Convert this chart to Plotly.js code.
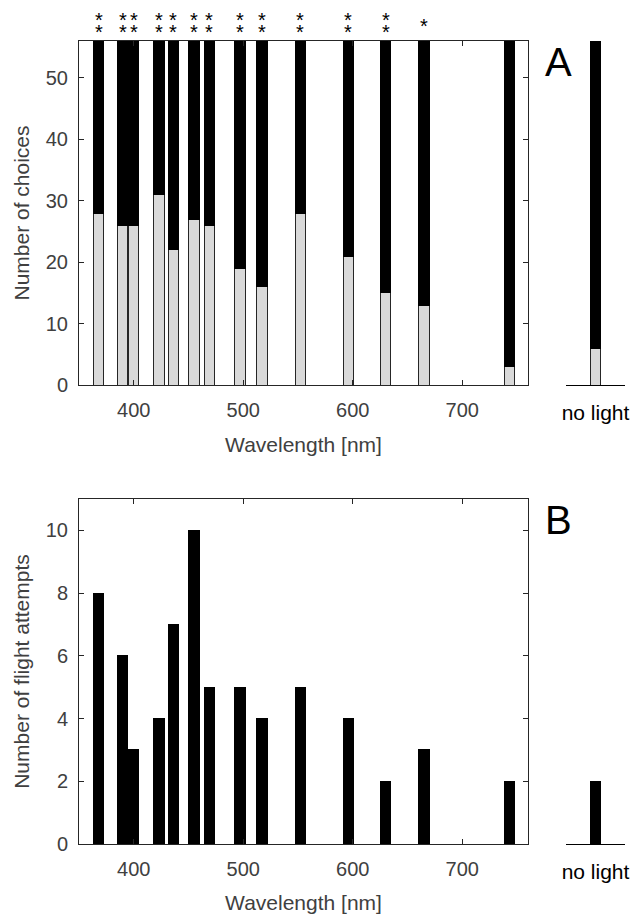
<!DOCTYPE html>
<html><head><meta charset="utf-8">
<script src="https://cdn.plot.ly/plotly-3.0.1.min.js"></script>
<style>html,body{margin:0;padding:0;background:#fff;} #chart{width:633px;height:914px;}</style>
</head><body><div id="chart"></div>
<script>
// ---- data ----
const wavelengths = [368, 390, 400, 423, 436, 455, 469, 497, 517, 552, 596, 630, 665, 743];
const lightChoices = [28, 26, 26, 31, 22, 27, 26, 19, 16, 28, 21, 15, 13, 3];
const darkChoices = [32, 34, 34, 29, 38, 33, 34, 41, 44, 32, 39, 45, 47, 57];
const significance = ['**', '**', '**', '**', '**', '**', '**', '**', '**', '**', '**', '**', '*', ''];
const flightAttempts = [8, 6, 3, 4, 7, 10, 5, 5, 4, 5, 4, 2, 3, 2];
const noLightLabel = ['no light'];
const noLightChoices = [6];
const noLightDark = [54];
const noLightFlights = [2];
const choiceTicks = [0, 10, 20, 30, 40, 50];
const flightTicks = [0, 2, 4, 6, 8, 10];
const wavelengthTicks = [400, 500, 600, 700];

// ---- style ----
const W = 633, H = 914;
const FONT = 'Liberation Sans, Arial, Helvetica, sans-serif';
const AX = '#262626', TXT = '#404040';
const grayFill = '#d9d9d9';
const barW = 9.4;
const px2x = p => p / W;
const px2y = p => 1 - p / H;

const mainX = [px2x(79), px2x(528)];
const nlX = [px2x(566), px2x(625)];
const aY = [px2y(385), px2y(41)];
const bY = [px2y(844), px2y(499)];

const traces = [
  {type: 'bar', x: wavelengths, y: lightChoices, width: barW, xaxis: 'x', yaxis: 'y',
   marker: {color: grayFill, line: {color: AX, width: 1}}, showlegend: false, hoverinfo: 'x+y'},
  {type: 'bar', x: wavelengths, y: darkChoices, width: barW, xaxis: 'x', yaxis: 'y',
   marker: {color: '#000', line: {color: '#000', width: 1}}, showlegend: false, hoverinfo: 'x+y'},
  {type: 'bar', x: noLightLabel, y: noLightChoices, width: 0.37, xaxis: 'x2', yaxis: 'y2',
   marker: {color: grayFill, line: {color: AX, width: 1}}, showlegend: false},
  {type: 'bar', x: noLightLabel, y: noLightDark, width: 0.37, xaxis: 'x2', yaxis: 'y2',
   marker: {color: '#000', line: {color: '#000', width: 1}}, showlegend: false},
  {type: 'bar', x: wavelengths, y: flightAttempts, width: barW, xaxis: 'x3', yaxis: 'y3',
   marker: {color: '#000', line: {color: '#000', width: 1}}, showlegend: false},
  {type: 'bar', x: noLightLabel, y: noLightFlights, width: 0.37, xaxis: 'x4', yaxis: 'y4',
   marker: {color: '#000', line: {color: '#000', width: 1}}, showlegend: false}
];

function mainXAxis(anchor) {
  return {domain: mainX, anchor: anchor, range: [350, 760], tickvals: wavelengthTicks,
    ticks: 'inside', ticklen: 5, tickcolor: AX, showline: true, linecolor: AX, linewidth: 1,
    mirror: 'ticks', showgrid: false, zeroline: false, automargin: false, ticklabelstandoff: 7,
    tickfont: {family: FONT, size: 20, color: TXT},
    title: {text: 'Wavelength [nm]', standoff: 17, font: {family: FONT, size: 21, color: TXT}}};
}
function mainYAxis(anchor, dom, rng, tv, title) {
  return {domain: dom, anchor: anchor, range: rng, tickvals: tv,
    ticks: 'inside', ticklen: 5, tickcolor: AX, showline: true, linecolor: AX, linewidth: 1,
    mirror: 'ticks', showgrid: false, zeroline: false, automargin: false, ticklabelstandoff: 6,
    tickfont: {family: FONT, size: 20, color: TXT},
    title: {text: title, standoff: 10, font: {family: FONT, size: 21, color: TXT}}};
}
function nlXAxis(anchor) {
  return {domain: nlX, anchor: anchor, type: 'category', range: [-1, 1],
    showline: true, linecolor: '#000', linewidth: 1, ticks: '', showgrid: false, zeroline: false,
    automargin: false, ticklabelstandoff: 9, tickfont: {family: FONT, size: 21, color: '#000'}};
}
function nlYAxis(anchor, dom, rng) {
  return {domain: dom, anchor: anchor, range: rng, visible: false, showgrid: false, zeroline: false};
}

const annotations = [];
wavelengths.forEach((w, i) => {
  const n = significance[i].length;
  for (let k = 0; k < n; k++) {
    const yc = 22 + (k - (n - 1) / 2) * 12;
    annotations.push({x: w, xref: 'x', y: px2y(yc + 4), yref: 'paper', text: '*', showarrow: false,
      xanchor: 'center', yanchor: 'middle', font: {family: FONT, size: 20, color: '#000'}});
  }
});
annotations.push({x: px2x(558), y: px2y(62), xref: 'paper', yref: 'paper', text: 'A', showarrow: false,
  xanchor: 'center', yanchor: 'middle', font: {family: FONT, size: 40, color: '#000'}});
annotations.push({x: px2x(558), y: px2y(520), xref: 'paper', yref: 'paper', text: 'B', showarrow: false,
  xanchor: 'center', yanchor: 'middle', font: {family: FONT, size: 40, color: '#000'}});

const layout = {
  width: W, height: H, margin: {l: 0, r: 0, t: 0, b: 0},
  paper_bgcolor: '#fff', plot_bgcolor: 'rgba(0,0,0,0)',
  barmode: 'stack', showlegend: false, font: {family: FONT},
  xaxis: mainXAxis('y'),
  yaxis: mainYAxis('x', aY, [0, 56], choiceTicks, 'Number of choices'),
  xaxis2: nlXAxis('y2'),
  yaxis2: nlYAxis('x2', aY, [0, 56]),
  xaxis3: mainXAxis('y3'),
  yaxis3: mainYAxis('x3', bY, [0, 11], flightTicks, 'Number of flight attempts'),
  xaxis4: nlXAxis('y4'),
  yaxis4: nlYAxis('x4', bY, [0, 11]),
  annotations: annotations
};

Plotly.newPlot('chart', traces, layout, {displayModeBar: false, staticPlot: true});
</script>
</body></html>
